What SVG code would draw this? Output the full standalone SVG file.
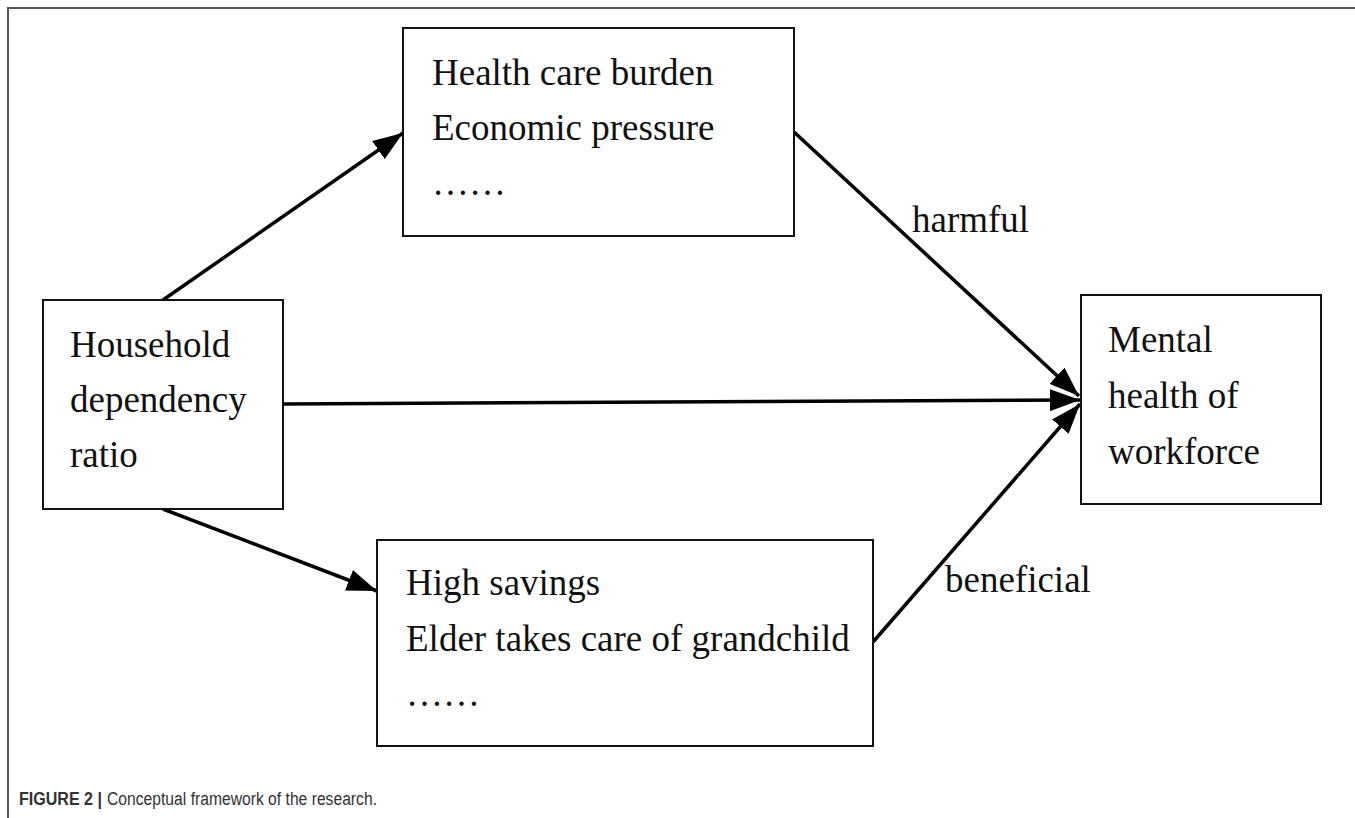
<svg xmlns="http://www.w3.org/2000/svg" width="1355" height="818" viewBox="0 0 1355 818">
<style>
.box{fill:#fff;stroke:#111;stroke-width:2}
.t{font-family:"Liberation Sans",Arial,sans-serif;font-size:37px;fill:#111}
.t{font-family:"Liberation Serif","Times New Roman",serif}
.c{stroke:#000;stroke-width:3.5;fill:none;marker-end:url(#ah)}
.cap{font-family:"Liberation Sans",Arial,sans-serif;font-size:18px;fill:#333}
</style>
<defs>
<marker id="ah" viewBox="0 0 30 22" refX="30" refY="11" markerWidth="30" markerHeight="22" markerUnits="userSpaceOnUse" orient="auto">
<path d="M0,0 L30,11 L0,22 z" fill="#000"/>
</marker>
</defs>
<rect width="1355" height="818" fill="#fff"/>
<path d="M8,818 V8 H1355" fill="none" stroke="#555" stroke-width="2"/>
<g id="connectors">
<line class="c" x1="163" y1="300" x2="403" y2="133"/>
<line class="c" x1="283" y1="404" x2="1080" y2="400"/>
<line class="c" x1="163" y1="509" x2="377" y2="591"/>
<line class="c" x1="794" y1="132" x2="1079" y2="396"/>
<line class="c" x1="873" y1="642" x2="1080" y2="404"/>
<text class="t" x="912" y="232">harmful</text>
<text class="t" x="945" y="592">beneficial</text>
</g>
<g id="node-top">
<rect class="box" x="403" y="28" width="391" height="208"/>
<text class="t" x="432" y="85">Health care burden</text>
<text class="t" x="432" y="140">Economic pressure</text>
<text class="t" x="432" y="195">……</text>
</g>
<g id="node-left">
<rect class="box" x="43" y="300" width="240" height="209"/>
<text class="t" x="70" y="357">Household</text>
<text class="t" x="70" y="412">dependency</text>
<text class="t" x="70" y="467">ratio</text>
</g>
<g id="node-right">
<rect class="box" x="1081" y="295" width="240" height="209"/>
<text class="t" x="1108" y="352">Mental</text>
<text class="t" x="1108" y="408">health of</text>
<text class="t" x="1108" y="464">workforce</text>
</g>
<g id="node-bottom">
<rect class="box" x="377" y="540" width="496" height="206"/>
<text class="t" x="406" y="595">High savings</text>
<text class="t" x="406" y="651">Elder takes care of grandchild</text>
<text class="t" x="406" y="706">……</text>
</g>
<text class="cap" x="19" y="805" font-weight="bold" fill="#222" textLength="83" lengthAdjust="spacingAndGlyphs">FIGURE 2 |</text>
<text class="cap" x="107" y="805" textLength="270" lengthAdjust="spacingAndGlyphs">Conceptual framework of the research.</text>
</svg>
